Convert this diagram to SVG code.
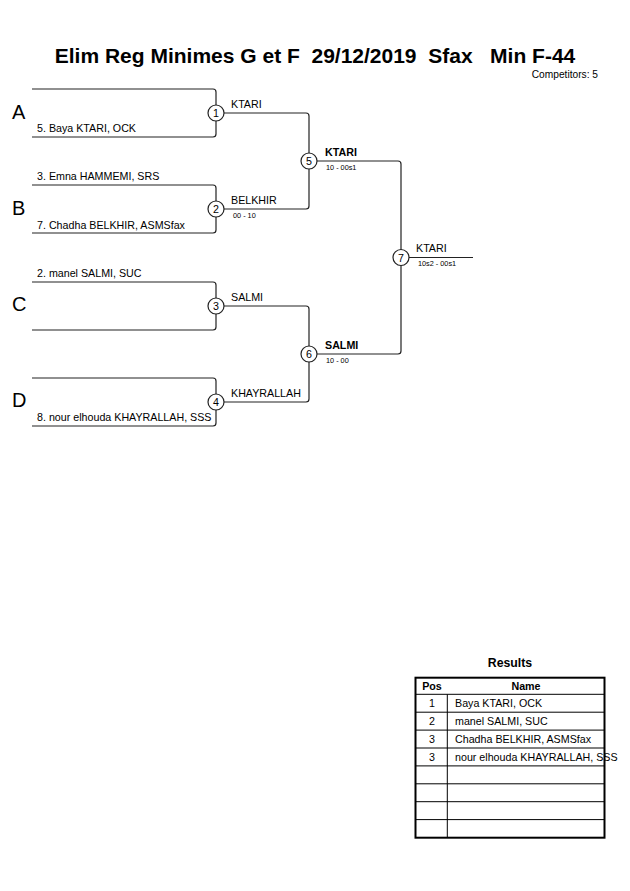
<svg xmlns="http://www.w3.org/2000/svg" width="630" height="891" viewBox="0 0 630 891">
<style>
text{font-family:"Liberation Sans",Arial,sans-serif;fill:#000}
.t{font-size:10.7px}
.s{font-size:7.3px}
.b{font-weight:bold}
.L{font-size:20px}
.ln{fill:none;stroke:#222;stroke-width:1.2}
.c{fill:#fff;stroke:#222;stroke-width:1.2}
.n{font-size:10.7px;text-anchor:middle}
.tb{fill:none;stroke:#000;stroke-width:1}
</style>
<rect width="630" height="891" fill="#fff"/>
<text x="315" y="63" text-anchor="middle" class="b" style="font-size:21px;white-space:pre" xml:space="preserve">Elim Reg Minimes G et F  29/12/2019  Sfax   Min F-44</text>
<text x="598" y="78" text-anchor="end" style="font-size:10.2px">Competitors: 5</text>

<g id="connectors">
<path class="ln" d="M32,89 H213 Q216,89 216,92 V134 Q216,137 213,137 H32"/>
<path class="ln" d="M32,185 H213 Q216,185 216,188 V230 Q216,233 213,233 H32"/>
<path class="ln" d="M32,282 H213 Q216,282 216,285 V327 Q216,330 213,330 H32"/>
<path class="ln" d="M32,378 H213 Q216,378 216,381 V423 Q216,426 213,426 H32"/>
<path class="ln" d="M224,113 H306 Q309,113 309,116 V206 Q309,209 306,209 H224"/>
<path class="ln" d="M224,306 H306 Q309,306 309,309 V399 Q309,402 306,402 H224"/>
<path class="ln" d="M317,161 H398 Q401,161 401,164 V351 Q401,354 398,354 H317"/>
<path class="ln" d="M409,257.5 H473"/>
</g>

<g id="labels">
<text x="12" y="119" class="L">A</text>
<text x="12" y="215" class="L">B</text>
<text x="12" y="311" class="L">C</text>
<text x="12" y="407" class="L">D</text>
<text x="37" y="132" class="t">5. Baya KTARI, OCK</text>
<text x="37" y="180" class="t">3. Emna HAMMEMI, SRS</text>
<text x="37" y="229" class="t">7. Chadha BELKHIR, ASMSfax</text>
<text x="37" y="277" class="t">2. manel SALMI, SUC</text>
<text x="37" y="421" class="t">8. nour elhouda KHAYRALLAH, SSS</text>
</g>

<g id="m1"><circle class="c" cx="216" cy="113" r="8"/><text x="216" y="117" class="n">1</text><text x="231" y="108" class="t">KTARI</text></g>
<g id="m2"><circle class="c" cx="216" cy="209" r="8"/><text x="216" y="213" class="n">2</text><text x="231" y="204" class="t">BELKHIR</text><text x="233" y="218" class="s">00 - 10</text></g>
<g id="m3"><circle class="c" cx="216" cy="306" r="8"/><text x="216" y="310" class="n">3</text><text x="231" y="301" class="t">SALMI</text></g>
<g id="m4"><circle class="c" cx="216" cy="402" r="8"/><text x="216" y="406" class="n">4</text><text x="231" y="397" class="t">KHAYRALLAH</text></g>
<g id="m5"><circle class="c" cx="309" cy="161" r="8"/><text x="309" y="165" class="n">5</text><text x="325" y="156" class="t b">KTARI</text><text x="326" y="170" class="s">10 - 00s1</text></g>
<g id="m6"><circle class="c" cx="309" cy="354" r="8"/><text x="309" y="358" class="n">6</text><text x="325" y="349" class="t b">SALMI</text><text x="326" y="363" class="s">10 - 00</text></g>
<g id="m7"><circle class="c" cx="401" cy="257.5" r="8"/><text x="401" y="261.5" class="n">7</text><text x="416" y="252" class="t">KTARI</text><text x="418" y="266" class="s">10s2 - 00s1</text></g>

<g id="results">
<text x="510" y="667" text-anchor="middle" class="b" style="font-size:12.3px">Results</text>
<rect x="415.5" y="677.7" width="189" height="160" fill="none" stroke="#000" stroke-width="2"/>
<line class="tb" x1="415.5" y1="694.3" x2="604.5" y2="694.3" stroke-width="1.6"/>
<line class="tb" x1="415.5" y1="712.2" x2="604.5" y2="712.2"/>
<line class="tb" x1="415.5" y1="730.1" x2="604.5" y2="730.1"/>
<line class="tb" x1="415.5" y1="748" x2="604.5" y2="748"/>
<line class="tb" x1="415.5" y1="765.9" x2="604.5" y2="765.9"/>
<line class="tb" x1="415.5" y1="783.8" x2="604.5" y2="783.8"/>
<line class="tb" x1="415.5" y1="801.7" x2="604.5" y2="801.7"/>
<line class="tb" x1="415.5" y1="819.6" x2="604.5" y2="819.6"/>
<line class="tb" x1="447.3" y1="694.3" x2="447.3" y2="837.7"/>
<text x="432" y="690" class="n b">Pos</text>
<text x="526" y="690" class="n b">Name</text>
<text x="432" y="707" class="n">1</text><text x="455" y="707" class="t">Baya KTARI, OCK</text>
<text x="432" y="724.8" class="n">2</text><text x="455" y="724.8" class="t">manel SALMI, SUC</text>
<text x="432" y="742.7" class="n">3</text><text x="455" y="742.7" class="t">Chadha BELKHIR, ASMSfax</text>
<text x="432" y="760.6" class="n">3</text><text x="455" y="760.6" class="t">nour elhouda KHAYRALLAH, SSS</text>
</g>
</svg>
